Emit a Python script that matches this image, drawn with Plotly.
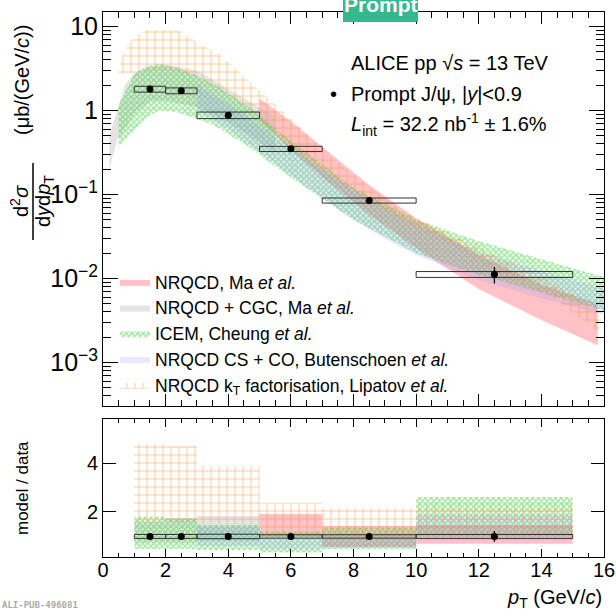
import plotly.graph_objects as go

# ---------------- data ----------------
bin_lo = [1, 2, 3, 5, 7, 10]
bin_hi = [2, 3, 5, 7, 10, 15]
pt_data = [1.5, 2.5, 4.0, 6.0, 8.5, 12.5]
xsec = [1.80, 1.72, 0.88, 0.35, 0.085, 0.0112]
stat_rel = [0.02, 0.02, 0.02, 0.03, 0.04, 0.22]
sys_rel = [0.08, 0.08, 0.09, 0.07, 0.07, 0.08]

# theory bands (top panel)
ma_pt = [5.0, 6.0, 7.0, 8.5, 10.0, 12.0, 14.0, 15.8]
ma_hi = [1.39, 0.74, 0.37, 0.13, 0.052, 0.019, 0.0085, 0.0050]
ma_lo = [0.75, 0.34, 0.16, 0.058, 0.023, 0.0075, 0.0032, 0.0016]

cgc_pt = [0.2, 0.45, 0.7, 1.0, 1.5, 2.0, 3.0, 4.0, 5.0, 5.5]
cgc_hi = [0.5, 1.0, 2.0, 2.8, 3.3, 3.5, 3.0, 1.8, 1.1, 0.85]
cgc_lo = [0.2, 0.44, 0.6, 0.9, 1.3, 1.3, 1.1, 0.72, 0.42, 0.32]

icem_pt = [0.5, 1.0, 1.4, 1.8, 2.4, 3.0, 3.6, 4.7, 5.7, 6.8, 8.0, 10.0, 12.0, 14.0, 16.0]
icem_hi = [1.15, 2.7, 3.4, 3.6, 3.2, 2.6, 2.0, 1.08, 0.53, 0.26, 0.12, 0.05, 0.028, 0.017, 0.0104]
icem_lo = [0.36, 0.58, 0.83, 1.0, 0.95, 0.8, 0.65, 0.36, 0.19, 0.1, 0.05, 0.02, 0.011, 0.0068, 0.0042]

bk_pt = [3, 4, 5, 6, 7, 8, 9, 10, 12, 14, 16]
bk_hi = [2.0, 1.2, 0.65, 0.36, 0.2, 0.115, 0.07, 0.045, 0.021, 0.0122, 0.0076]
bk_lo = [1.0, 0.6, 0.32, 0.17, 0.09, 0.05, 0.03, 0.019, 0.0095, 0.0058, 0.0037]

kt_pt = [0.5, 0.65, 0.96, 1.4, 2.0, 2.4, 3.1, 3.7, 4.4, 4.9, 6.3, 7.0, 8.2, 9.5, 10.8, 12.7, 14.3, 15.9]
kt_hi = [3.1, 4.9, 7.3, 9.3, 9.1, 9.0, 6.2, 4.7, 2.8, 1.87, 0.63, 0.336, 0.149, 0.0656, 0.038, 0.0177, 0.009, 0.0040]
kt_lo = [2.7, 2.7, 2.8, 2.9, 3.0, 2.9, 2.4, 1.8, 1.2, 0.85, 0.32, 0.2, 0.1, 0.05, 0.03, 0.011, 0.0062, 0.0022]

# model / data per bin (bottom panel), None = not available
r_ma_lo = [None, None, None, 0.98, 0.57, 0.70]
r_ma_hi = [None, None, None, 1.92, 1.43, 1.47]
r_cgc_lo = [0.75, 0.75, 0.80, None, None, None]
r_cgc_hi = [1.60, 1.75, 1.84, None, None, None]
r_icem_lo = [0.49, 0.49, 0.45, 0.34, 0.49, 1.0]
r_icem_hi = [1.81, 1.74, 1.47, 1.20, 1.35, 2.61]
r_bk_lo = [None, None, 0.60, 0.50, 0.55, 0.85]
r_bk_hi = [None, None, 1.40, 1.05, 1.10, 1.90]
r_kt_lo = [1.6, 1.6, 1.5, 1.0, 0.9, 0.9]
r_kt_hi = [4.80, 4.71, 3.89, 2.38, 2.15, 2.35]

legend_names = [
    "NRQCD, Ma <i>et al.</i>",
    "NRQCD + CGC, Ma <i>et al.</i>",
    "ICEM, Cheung <i>et al.</i>",
    "NRQCD CS + CO, Butenschoen <i>et al.</i>",
    "NRQCD k<sub>T</sub> factorisation, Lipatov <i>et al.</i>",
]

# ---------------- styles ----------------
FONT = "Liberation Sans, Arial, Helvetica, sans-serif"
styles = [
    dict(fillcolor="rgba(255,90,100,0.36)", pattern=None),
    dict(fillcolor="rgba(185,185,185,0.38)", pattern=None),
    dict(fillcolor="rgba(0,0,0,0)", pattern=dict(shape="x", size=4, solidity=0.6,
                                                   fgcolor="rgba(40,205,40,0.95)", bgcolor="rgba(0,0,0,0)")),
    dict(fillcolor="rgba(150,150,255,0.22)", pattern=None),
    dict(fillcolor="rgba(0,0,0,0)", pattern=dict(shape="+", size=8, solidity=0.24,
                                                   fgcolor="rgba(255,140,40,0.95)", bgcolor="rgba(0,0,0,0)")),
]

fig = go.Figure()


def band(x, lo, hi):
    return list(x) + list(x)[::-1] + [x[0]], list(hi) + list(lo)[::-1] + [hi[0]]


def ratio_boxes(lo, hi):
    xs, ys = [], []
    for a, b, l, h in zip(bin_lo, bin_hi, lo, hi):
        if l is None:
            continue
        xs += [a, b, b, a, a, None]
        ys += [l, l, h, h, l, None]
    return xs, ys


top_bands = [(ma_pt, ma_lo, ma_hi), (cgc_pt, cgc_lo, cgc_hi), (icem_pt, icem_lo, icem_hi),
             (bk_pt, bk_lo, bk_hi), (kt_pt, kt_lo, kt_hi)]
ratio_bands = [(r_ma_lo, r_ma_hi), (r_cgc_lo, r_cgc_hi), (r_icem_lo, r_icem_hi),
               (r_bk_lo, r_bk_hi), (r_kt_lo, r_kt_hi)]

for i, ((x, lo, hi), name, st) in enumerate(zip(top_bands, legend_names, styles)):
    bx, by = band(x, lo, hi)
    kw = dict(fill="toself", fillcolor=st["fillcolor"], mode="lines", line=dict(width=0),
              hoverinfo="skip")
    if st["pattern"]:
        kw["fillpattern"] = st["pattern"]
    fig.add_trace(go.Scatter(x=bx, y=by, name=name, xaxis="x", yaxis="y",
                             legendgroup=str(i), showlegend=True, **kw))
    rx, ry = ratio_boxes(*ratio_bands[i])
    fig.add_trace(go.Scatter(x=rx, y=ry, xaxis="x2", yaxis="y2", showlegend=False,
                             legendgroup=str(i), **kw))

# data boxes (systematics)
bxs, bys, rxs, rys = [], [], [], []
for a, b, v, s in zip(bin_lo, bin_hi, xsec, sys_rel):
    bxs += [a, b, b, a, a, None]
    bys += [v * (1 - s), v * (1 - s), v * (1 + s), v * (1 + s), v * (1 - s), None]
    rxs += [a, b, b, a, a, None]
    rys += [1 - s, 1 - s, 1 + s, 1 + s, 1 - s, None]
fig.add_trace(go.Scatter(x=bxs, y=bys, mode="lines", line=dict(color="rgb(50,50,50)", width=1),
                         xaxis="x", yaxis="y", showlegend=False, hoverinfo="skip"))
fig.add_trace(go.Scatter(x=rxs, y=rys, mode="lines", line=dict(color="rgb(50,50,50)", width=1),
                         xaxis="x2", yaxis="y2", showlegend=False, hoverinfo="skip"))

fig.add_trace(go.Scatter(x=pt_data, y=xsec, mode="markers",
                         marker=dict(color="black", size=7),
                         error_y=dict(type="data", array=[v * s for v, s in zip(xsec, stat_rel)],
                                      color="black", thickness=1.3, width=0),
                         xaxis="x", yaxis="y", showlegend=False))
fig.add_trace(go.Scatter(x=pt_data, y=[1.0] * len(pt_data), mode="markers",
                         marker=dict(color="black", size=7),
                         error_y=dict(type="data", array=stat_rel, color="black", thickness=1.3, width=0),
                         xaxis="x2", yaxis="y2", showlegend=False))

# ---------------- layout ----------------
L, R, T, B = 103, 604, 12, 557
W, H = R - L, B - T


def px2x(px):
    return (px - L) / W


def py2y(py):
    return (B - py) / H


axis_common = dict(showline=True, linecolor="black", linewidth=1, mirror="allticks",
                   ticks="inside", tickcolor="black", showgrid=False, zeroline=False,
                   automargin=False,
                   tickfont=dict(family=FONT, size=20, color="black"))

fig.update_layout(
    width=616, height=616,
    margin=dict(l=L, r=616 - R, t=T, b=616 - B, autoexpand=False),
    plot_bgcolor="white", paper_bgcolor="white",
    font=dict(family=FONT, color="black"),
    xaxis=dict(domain=[0, 1], anchor="y", range=[0, 16], dtick=2, ticklen=12,
               showticklabels=False, matches="x2",
               minor=dict(ticks="inside", ticklen=6, dtick=0.5, tickcolor="black"), **axis_common),
    yaxis=dict(domain=[py2y(406), 1], anchor="x", type="log", range=[-3.518, 1.173],
               dtick=1, exponentformat="power", ticklen=15,
               minor=dict(ticks="inside", ticklen=8, dtick="D1", tickcolor="black"), **axis_common),
    xaxis2=dict(domain=[0, 1], anchor="y2", range=[0, 16], dtick=2, ticklen=8,
                ticklabelstandoff=-5,
                minor=dict(ticks="inside", ticklen=4, dtick=0.5, tickcolor="black"), **axis_common),
    yaxis2=dict(domain=[0, py2y(419)], anchor="x2", range=[0.16, 5.8], tickvals=[2, 4],
                ticklen=13, **axis_common),
    legend=dict(x=px2x(115), y=py2y(264), xanchor="left", yanchor="top",
                bgcolor="rgba(0,0,0,0)", font=dict(family=FONT, size=17.5, color="black"),
                tracegroupgap=0, itemwidth=30),
    showlegend=True,
)

ann = []


def A(text, px, py, size, xanchor="center", yanchor="middle", angle=0, color="black", **kw):
    ann.append(dict(text=text, x=px2x(px), y=py2y(py), xref="paper", yref="paper",
                    xanchor=xanchor, yanchor=yanchor, textangle=angle, showarrow=False,
                    font=dict(family=kw.pop("family", FONT), size=size, color=color), **kw))


A("ALICE pp √<i>s</i> = 13 TeV", 349, 63, 20, xanchor="left")
A("•", 333, 94, 20)
A("Prompt J/ψ, |<i>y</i>|<0.9", 349, 94, 20, xanchor="left")
A("<i>L</i><sub>int</sub> = 32.2 nb<sup>-1</sup> ± 1.6%", 349, 125, 20, xanchor="left")

# y-axis title (fraction)
A("d<sup>2</sup><i>σ</i>", 20, 201, 20, angle=-90)
A("d<i>y</i>d<i>p</i><sub>T</sub>", 45, 201, 20, angle=-90)
A("(μb/(GeV/<i>c</i>))", 22, 80, 20, angle=-90)
A("model / data", 22, 488, 17, angle=-90)
A("<i>p</i><sub>T</sub> (GeV/<i>c</i>)", 604, 599, 20, xanchor="right")
A("<b>ALI-PUB-496081</b>", 0, 605, 9, xanchor="left", color="rgb(170,170,170)",
  family="DejaVu Sans Mono")

# banner
A("<b>Prompt</b>", 381, 5, 21, color="white")

fig.update_layout(annotations=ann)
fig.update_layout(shapes=[
    dict(type="line", xref="paper", yref="paper", x0=px2x(33), x1=px2x(33),
         y0=py2y(163), y1=py2y(240), line=dict(color="black", width=1.5)),
    dict(type="rect", xref="paper", yref="paper", x0=px2x(343), x1=px2x(418),
         y0=py2y(22), y1=py2y(-12), fillcolor="rgb(50,185,142)", line=dict(width=0), layer="above"),
])

fig.write_html("out.html")
